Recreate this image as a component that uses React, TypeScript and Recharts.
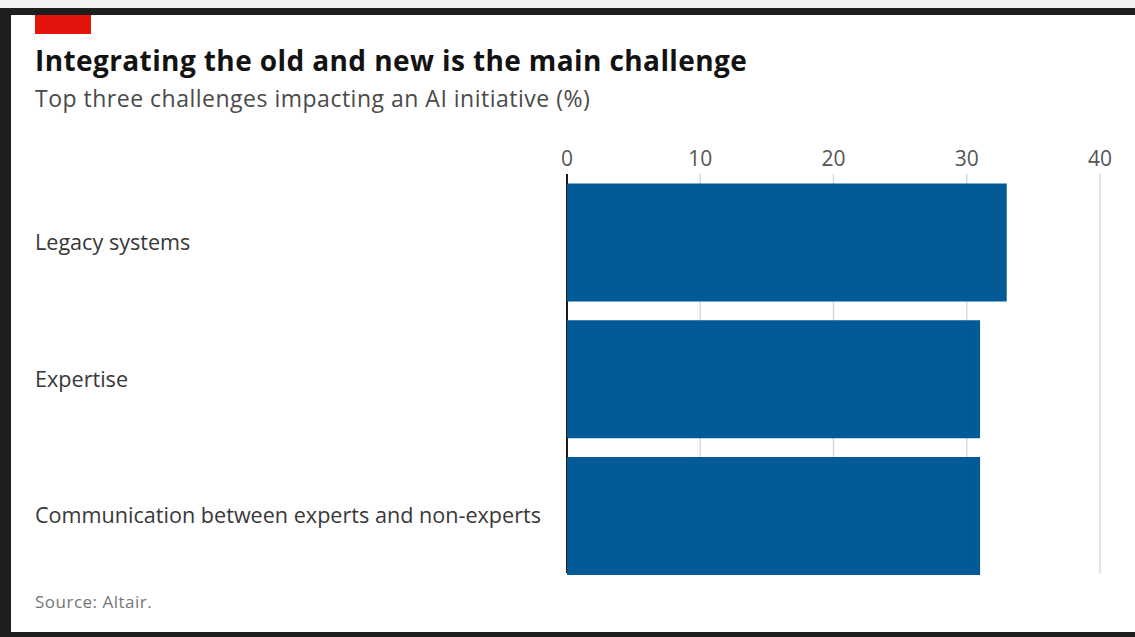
import { BarChart, Bar, XAxis, YAxis, CartesianGrid } from "recharts";

const categories = [
    "Legacy systems",
    "Expertise",
    "Communication between experts and non-experts",
];
const shares = [33, 31, 31];
const xTicks = [0, 10, 20, 30, 40];

const data = categories.map((name, i) => ({ name, value: shares[i] }));

const FONT = "'Open Sans', 'Noto Sans', sans-serif";

const LabelTick = (props: any) => {
    const { y, payload } = props;
    return (
        <text x={35} y={y} dy="0.36em" textAnchor="start" fill="#383838" fontSize={21.6} fontFamily={FONT}>
            {payload.value}
        </text>
    );
};

// grid lines stop at the bottom of the last bar; first one is the black zero line
const gridLine = (props: any) => {
    const { x1, y1, x2, y2, index } = props;
    const isZero = index === 0;
    return (
        <line
            key={props.key}
            x1={x1}
            x2={x2}
            y1={y1}
            y2={y2 - 11}
            stroke={isZero ? "#1a1a1a" : "#d3dbe4"}
            strokeWidth={isZero ? 2 : 1.5}
        />
    );
};

export default function App() {
    return (
        <div style={{ position: "absolute", left: 0, top: 0, width: 1135, height: 637, background: "#fff", overflow: "hidden", fontFamily: FONT }}>
            <div style={{ position: "absolute", left: 0, top: 0, width: 1135, height: 8, background: "#f2f2f2" }} />
            <div style={{ position: "absolute", left: 0, top: 8, width: 1135, height: 7, background: "#1e1e1e" }} />
            <div style={{ position: "absolute", left: 0, top: 8, width: 11, height: 629, background: "#1e1e1e" }} />
            <div style={{ position: "absolute", left: 0, top: 632, width: 1135, height: 5, background: "#1e1e1e" }} />
            <div style={{ position: "absolute", left: 35, top: 15, width: 56, height: 19, background: "#e3120b" }} />

            <div style={{ position: "absolute", left: 35, top: 46, fontSize: 28, lineHeight: "28px", letterSpacing: 0.4, fontWeight: 700, color: "#121212", whiteSpace: "nowrap" }}>
                Integrating the old and new is the main challenge
            </div>
            <div style={{ position: "absolute", left: 35, top: 87, fontSize: 23, lineHeight: "23px", letterSpacing: 0.5, color: "#4a4a4a", whiteSpace: "nowrap" }}>
                Top three challenges impacting an AI initiative (%)
            </div>

            <div style={{ position: "absolute", left: 0, top: 0 }}>
                <BarChart
                    width={1135}
                    height={637}
                    data={data}
                    layout="vertical"
                    barCategoryGap="7%"
                    margin={{ top: 134, right: 35, left: 35, bottom: 53 }}
                >
                    <CartesianGrid horizontal={false} vertical={gridLine} />
                    <XAxis
                        type="number"
                        orientation="top"
                        domain={[0, 40]}
                        ticks={xTicks}
                        height={40}
                        axisLine={false}
                        tickLine={false}
                        tickSize={0}
                        tickMargin={8}
                        tick={{ fill: "#555", fontSize: 21, fontFamily: FONT }}
                    />
                    <YAxis
                        type="category"
                        dataKey="name"
                        width={532}
                        axisLine={false}
                        tickLine={false}
                        tick={<LabelTick />}
                    />
                    <Bar dataKey="value" fill="#025a96" isAnimationActive={false} />
                </BarChart>
            </div>

            <div style={{ position: "absolute", left: 35, top: 592, fontSize: 17, lineHeight: "20px", letterSpacing: 0.5, color: "#777", whiteSpace: "nowrap" }}>
                Source: Altair.
            </div>
        </div>
    );
}
